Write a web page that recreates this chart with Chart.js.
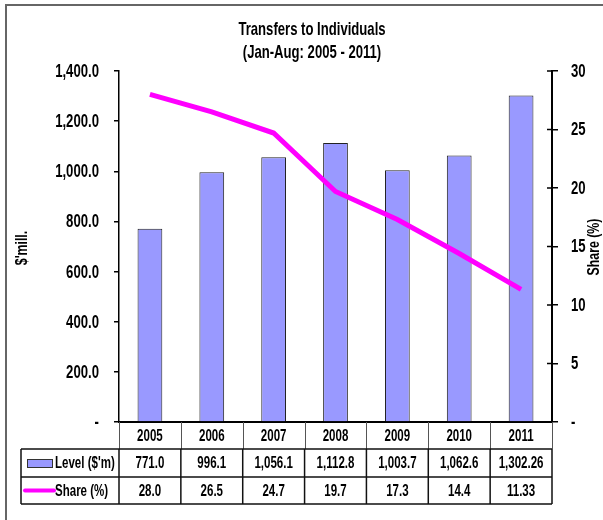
<!DOCTYPE html>
<html>
<head>
<meta charset="utf-8">
<script src="https://cdn.jsdelivr.net/npm/chart.js@4.4.1/dist/chart.umd.min.js"></script>
<style>
  html, body { margin: 0; padding: 0; background: #fff; }
  #wrap { width: 603px; height: 520px; }
</style>
</head>
<body>
<div id="wrap"><canvas id="transfers-chart" width="603" height="520"></canvas></div>
<script>
// no Arial Narrow here, so squeeze Liberation Sans Bold horizontally
const FONT = "'Liberation Sans', Arial, sans-serif";

// data
const years = ['2005', '2006', '2007', '2008', '2009', '2010', '2011'];
const levelValues = [771.0, 996.1, 1056.1, 1112.8, 1003.7, 1062.6, 1302.26];
const shareValues = [28.0, 26.5, 24.7, 19.7, 17.3, 14.4, 11.33];
const titleLines = ['Transfers to Individuals', '(Jan-Aug: 2005 - 2011)'];
const levelLabel = "Level ($'m)";
const shareLabel = 'Share (%)';
const leftAxisTitle = "$'mill.";
const rightAxisTitle = 'Share (%)';

const barColor = '#9999FF';
const lineColor = '#FF00FF';

function fmt(v) {
  return v.toLocaleString('en-US', { minimumFractionDigits: 1, maximumFractionDigits: 2 });
}

function narrowText(ctx, text, x, y, size, squeeze, align, rotate) {
  ctx.save();
  ctx.translate(x, y);
  if (rotate) ctx.rotate(-Math.PI / 2);
  ctx.scale(squeeze, 1);
  ctx.font = 'bold ' + size + 'px ' + FONT;
  ctx.textAlign = align;
  ctx.textBaseline = 'middle';
  ctx.fillStyle = '#000';
  ctx.fillText(text, 0, 0);
  ctx.restore();
}

// title, axis titles, tick labels, frame and the data table under the plot
const tablePlugin = {
  id: 'tablePlugin',
  afterDraw(chart) {
    const ctx = chart.ctx;
    const area = chart.chartArea;
    const x = chart.scales.x;
    const y = chart.scales.y;
    const y1 = chart.scales.y1;
    const colW = (area.right - area.left) / years.length;

    ctx.save();

    // outer frame (only top + left show in the crop)
    ctx.strokeStyle = '#666';
    ctx.lineWidth = 2;
    ctx.beginPath();
    ctx.moveTo(6, 520);
    ctx.lineTo(6, 5);
    ctx.lineTo(603, 5);
    ctx.stroke();

    // title
    narrowText(ctx, titleLines[0], 312, 30, 19, 0.69, 'center');
    narrowText(ctx, titleLines[1], 312, 53, 19, 0.69, 'center');

    // axis titles
    narrowText(ctx, leftAxisTitle, 23, 248, 16, 0.77, 'center', true);
    narrowText(ctx, rightAxisTitle, 595, 247, 16, 0.77, 'center', true);

    // tick labels
    y.ticks.forEach((t) => {
      const py = y.getPixelForValue(t.value);
      narrowText(ctx, t.value === 0 ? '-' : fmt(t.value), 99, py + 1, 18, 0.73, 'right');
    });
    y1.ticks.forEach((t) => {
      const py = y1.getPixelForValue(t.value);
      narrowText(ctx, t.value === 0 ? '-' : String(t.value), 571, py + 1, 18, 0.73, 'left');
    });

    // inner half of the crossing ticks on the right axis
    ctx.strokeStyle = '#000';
    ctx.lineWidth = 1.5;
    ctx.beginPath();
    y1.ticks.forEach((t) => {
      const py = y1.getPixelForValue(t.value);
      ctx.moveTo(area.right - 5, py);
      ctx.lineTo(area.right, py);
    });
    ctx.stroke();

    // table geometry
    const top = area.bottom;
    const r1 = top + 27;
    const r2 = r1 + 28;
    const r3 = r2 + 27;
    const tableLeft = 21;

    // header row separators (lighter)
    ctx.strokeStyle = '#555';
    ctx.lineWidth = 1;
    ctx.beginPath();
    for (let i = 0; i <= years.length; i++) {
      const px = Math.round(area.left + i * colW) + 0.5;
      ctx.moveTo(px, top);
      ctx.lineTo(px, r1);
    }
    ctx.stroke();

    // body grid
    ctx.strokeStyle = '#111';
    ctx.lineWidth = 1.5;
    ctx.beginPath();
    for (let i = 0; i <= years.length; i++) {
      const px = area.left + i * colW;
      ctx.moveTo(px, r1);
      ctx.lineTo(px, r3);
    }
    ctx.moveTo(tableLeft, r1);
    ctx.lineTo(tableLeft, r3);
    [r1, r2, r3].forEach((ry) => {
      ctx.moveTo(tableLeft, ry);
      ctx.lineTo(area.right, ry);
    });
    ctx.stroke();

    // cells
    years.forEach((yr, i) => {
      const cx = x.getPixelForValue(i);
      narrowText(ctx, yr, cx, (top + r1) / 2 + 1, 16, 0.72, 'center');
      narrowText(ctx, fmt(levelValues[i]), cx, (r1 + r2) / 2 + 1, 16, 0.72, 'center');
      narrowText(ctx, fmt(shareValues[i]), cx, (r2 + r3) / 2 + 1, 16, 0.72, 'center');
    });

    // legend keys
    ctx.fillStyle = barColor;
    ctx.fillRect(27, r1 + 10, 25, 8);
    ctx.strokeStyle = '#333';
    ctx.lineWidth = 1;
    ctx.strokeRect(27.5, r1 + 10.5, 25, 8);
    ctx.strokeStyle = lineColor;
    ctx.lineWidth = 4;
    ctx.lineCap = 'round';
    ctx.beginPath();
    ctx.moveTo(25, (r2 + r3) / 2);
    ctx.lineTo(54, (r2 + r3) / 2);
    ctx.stroke();

    narrowText(ctx, levelLabel, 55, (r1 + r2) / 2 + 1, 16, 0.72, 'left');
    narrowText(ctx, shareLabel, 55, (r2 + r3) / 2 + 1, 16, 0.72, 'left');

    ctx.restore();
  }
};

const chartCanvas = document.getElementById('transfers-chart');
const chartContext = chartCanvas.getContext('2d');

const transfersChart = new Chart(chartContext, {
  type: 'bar',
  data: {
    labels: years,
    datasets: [
      {
        type: 'bar',
        label: levelLabel,
        data: levelValues,
        yAxisID: 'y',
        backgroundColor: barColor,
        borderColor: '#222',
        borderWidth: 1,
        barPercentage: 0.4,
        categoryPercentage: 1.0,
        order: 1,
      },
      {
        type: 'line',
        label: shareLabel,
        data: shareValues,
        yAxisID: 'y1',
        borderColor: lineColor,
        backgroundColor: lineColor,
        borderWidth: 5,
        pointRadius: 0,
        tension: 0,
        order: 0,
      },
    ],
  },
  options: {
    responsive: false,
    animation: false,
    layout: {
      padding: { left: 0, right: 0, top: 71, bottom: 98 },
    },
    plugins: {
      legend: { display: false },
      title: { display: false },
      tooltip: { enabled: false },
    },
    scales: {
      x: {
        offset: true,
        grid: { display: false, drawTicks: false },
        ticks: { display: false },
        border: { display: true, color: '#000', width: 2 },
        afterFit(scale) { scale.height = 0; },
      },
      y: {
        position: 'left',
        min: 0,
        max: 1400,
        ticks: { stepSize: 200, display: false },
        grid: { drawOnChartArea: false, tickLength: 5, color: '#000', lineWidth: 1.5 },
        border: { display: true, color: '#000', width: 1.5 },
        afterFit(scale) { scale.width = 119; },
      },
      y1: {
        position: 'right',
        min: 0,
        max: 30,
        ticks: { stepSize: 5, display: false },
        grid: { drawOnChartArea: false, tickLength: 6, color: '#000', lineWidth: 1.5 },
        border: { display: true, color: '#000', width: 2 },
        afterFit(scale) { scale.width = 51; },
      },
    },
  },
  plugins: [tablePlugin],
});
</script>
</body>
</html>
